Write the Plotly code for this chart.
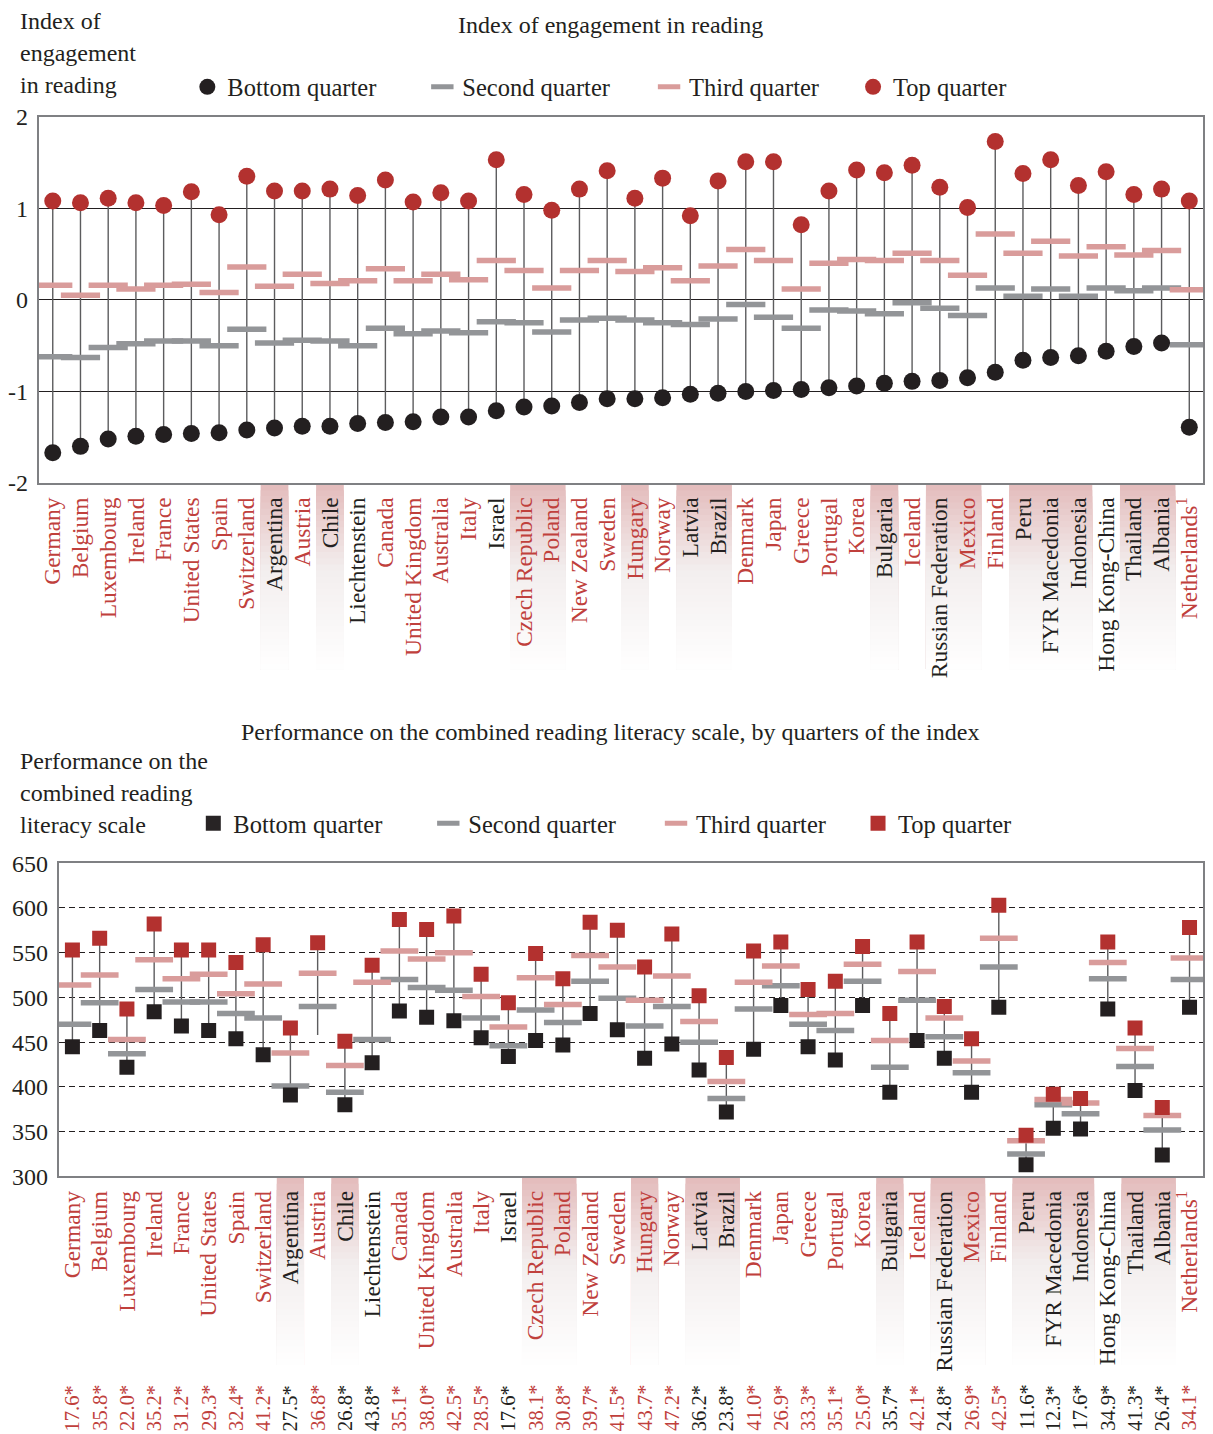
import plotly.graph_objects as go

countries = ["Germany", "Belgium", "Luxembourg", "Ireland", "France", "United States", "Spain",
             "Switzerland", "Argentina", "Austria", "Chile", "Liechtenstein", "Canada",
             "United Kingdom", "Australia", "Italy", "Israel", "Czech Republic", "Poland",
             "New Zealand", "Sweden", "Hungary", "Norway", "Latvia", "Brazil", "Denmark", "Japan",
             "Greece", "Portugal", "Korea", "Bulgaria", "Iceland", "Russian Federation", "Mexico",
             "Finland", "Peru", "FYR Macedonia", "Indonesia", "Hong Kong-China", "Thailand",
             "Albania", "Netherlands<sup>1</sup>"]
oecd = [1, 1, 1, 1, 1, 1, 1, 1, 0, 1, 0, 0, 1, 1, 1, 1, 0, 1, 1, 1, 1, 1, 1, 0, 0, 1, 1, 1, 1, 1,
        0, 1, 0, 1, 1, 0, 0, 0, 0, 0, 0, 1]
shaded = [0, 0, 0, 0, 0, 0, 0, 0, 1, 0, 1, 0, 0, 0, 0, 0, 0, 1, 1, 0, 0, 1, 0, 1, 1, 0, 0, 0, 0, 0,
          1, 0, 1, 1, 0, 1, 1, 1, 0, 1, 1, 0]

eng_bottom = [-1.67, -1.60, -1.52, -1.49, -1.47, -1.46, -1.45, -1.42, -1.40, -1.38, -1.38, -1.35,
              -1.34, -1.33, -1.28, -1.28, -1.21, -1.17, -1.16, -1.12, -1.08, -1.08, -1.07, -1.03,
              -1.02, -1.00, -0.99, -0.98, -0.96, -0.94, -0.91, -0.89, -0.88, -0.85, -0.79, -0.66,
              -0.63, -0.61, -0.56, -0.51, -0.47, -1.39]
eng_second = [-0.62, -0.63, -0.52, -0.48, -0.45, -0.45, -0.50, -0.32, -0.47, -0.44, -0.45, -0.50,
              -0.31, -0.37, -0.34, -0.36, -0.24, -0.25, -0.35, -0.22, -0.20, -0.22, -0.25, -0.27,
              -0.21, -0.05, -0.19, -0.31, -0.11, -0.12, -0.15, -0.03, -0.09, -0.17, 0.13, 0.04,
              0.12, 0.04, 0.13, 0.10, 0.13, -0.49]
eng_third = [0.16, 0.05, 0.16, 0.12, 0.16, 0.17, 0.08, 0.36, 0.15, 0.28, 0.18, 0.21, 0.34, 0.21,
             0.28, 0.22, 0.43, 0.32, 0.13, 0.32, 0.43, 0.31, 0.35, 0.21, 0.37, 0.55, 0.43, 0.12,
             0.40, 0.44, 0.43, 0.51, 0.43, 0.27, 0.72, 0.51, 0.64, 0.48, 0.58, 0.49, 0.54, 0.11]
eng_top = [1.08, 1.06, 1.11, 1.06, 1.03, 1.18, 0.93, 1.35, 1.19, 1.19, 1.21, 1.14, 1.31, 1.07,
           1.17, 1.08, 1.53, 1.15, 0.98, 1.21, 1.41, 1.11, 1.33, 0.92, 1.30, 1.51, 1.51, 0.82,
           1.19, 1.42, 1.39, 1.47, 1.23, 1.01, 1.73, 1.38, 1.53, 1.25, 1.40, 1.15, 1.21, 1.08]

perf_bottom = [445, 463, 422, 484, 468, 463, 454, 436, 391, 458, 380, 427, 485, 478, 474, 455, 434,
               452, 447, 482, 464, 432, 448, 419, 372, 442, 491, 445, 430, 491, 394, 452, 432, 394,
               489, 313, 354, 353, 487, 396, 324, 489]
perf_bottom_shown = [1, 1, 1, 1, 1, 1, 1, 1, 1, 0, 1, 1, 1, 1, 1, 1, 1, 1, 1, 1, 1, 1, 1, 1, 1, 1,
                     1, 1, 1, 1, 1, 1, 1, 1, 1, 1, 1, 1, 1, 1, 1, 1]
perf_second = [470, 494, 437, 509, 495, 495, 482, 477, 401, 490, 394, 453, 520, 511, 508, 477, 446,
               486, 472, 518, 499, 468, 490, 450, 387, 487, 513, 470, 463, 518, 422, 497, 456, 416,
               534, 325, 380, 370, 521, 423, 352, 520]
perf_third = [514, 525, 453, 542, 521, 526, 504, 515, 438, 527, 424, 517, 552, 543, 550, 501, 467,
              522, 492, 547, 534, 497, 524, 473, 406, 517, 535, 481, 482, 537, 452, 529, 477, 429,
              566, 340, 386, 382, 539, 443, 368, 544]
perf_top = [553, 566, 487, 582, 553, 553, 539, 559, 466, 561, 451, 536, 587, 576, 591, 526, 494,
            549, 521, 584, 575, 534, 571, 502, 433, 552, 562, 509, 518, 557, 482, 562, 490, 454,
            603, 346, 392, 387, 562, 466, 377, 578]
pct_explained = ["17.6*", "35.8*", "22.0*", "35.2*", "31.2*", "29.3*", "32.4*", "41.2*", "27.5*",
                 "36.8*", "26.8*", "43.8*", "35.1*", "38.0*", "42.5*", "28.5*", "17.6*", "38.1*",
                 "30.8*", "39.7*", "41.5*", "43.7*", "47.2*", "36.2*", "23.8*", "41.0*", "26.9*",
                 "33.3*", "35.1*", "25.0*", "35.7*", "42.1*", "24.8*", "26.9*", "42.5*", "11.6*",
                 "12.3*", "17.6*", "34.9*", "41.3*", "26.4*", "34.1*"]

FONT = "Liberation Serif"
RED = "#b3312f"
LABEL_RED = "#c0403c"
PINK = "#d99c9b"
GREY = "#939598"
BLACK = "#231f20"
STEM = "#5c5c5e"
TXT = 24

# placement of the figure inside the photographed window (measured)
OX, SX, OY, SY = 13, 0.9957, 19, 0.984
FW, FH = 1197, 1434


def px(x):
    return max(0.0, ((x - OX) / SX) / FW)


def py(y):
    return 1 - ((y - OY) / SY) / FH


idx = list(range(len(countries)))
lab_col = [LABEL_RED if o else BLACK for o in oecd]
ticktext = [f'<span style="color:{c}">{n}</span>' for n, c in zip(countries, lab_col)]

fig = go.Figure()


def stems(xs, lo, hi, xa, ya):
    sx, sy = [], []
    for x, a, b in zip(xs, lo, hi):
        sx += [x, x, None]
        sy += [a, b, None]
    return go.Scatter(x=sx, y=sy, mode="lines", line=dict(color=STEM, width=1.4),
                      xaxis=xa, yaxis=ya, showlegend=False, hoverinfo="skip")


# ---- top panel ----
fig.add_trace(stems(idx, eng_bottom, eng_top, "x", "y"))
fig.add_trace(go.Scatter(x=idx, y=eng_second, mode="markers", name="Second quarter",
                         marker=dict(symbol="line-ew", size=28, line=dict(width=5.5, color=GREY)),
                         legend="legend", legendrank=2))
fig.add_trace(go.Scatter(x=idx, y=eng_third, mode="markers", name="Third quarter",
                         marker=dict(symbol="line-ew", size=28, line=dict(width=5.5, color=PINK)),
                         legend="legend3", legendrank=3))
fig.add_trace(go.Scatter(x=idx, y=eng_bottom, mode="markers", name="Bottom quarter",
                         marker=dict(symbol="circle", size=17, color=BLACK, line=dict(width=0)),
                         legend="legend", legendrank=1))
fig.add_trace(go.Scatter(x=idx, y=eng_top, mode="markers", name="Top quarter",
                         marker=dict(symbol="circle", size=17, color=RED, line=dict(width=0)),
                         legend="legend3", legendrank=4))

# ---- bottom panel ----
fig.add_trace(stems(idx, perf_bottom, perf_top, "x2", "y2"))
fig.add_trace(go.Scatter(x=idx, y=perf_second, mode="markers", name="Second quarter",
                         xaxis="x2", yaxis="y2",
                         marker=dict(symbol="line-ew", size=27, line=dict(width=5.5, color=GREY)),
                         legend="legend2", legendrank=2))
fig.add_trace(go.Scatter(x=idx, y=perf_third, mode="markers", name="Third quarter",
                         xaxis="x2", yaxis="y2",
                         marker=dict(symbol="line-ew", size=27, line=dict(width=5.5, color=PINK)),
                         legend="legend4", legendrank=3))
fig.add_trace(go.Scatter(x=idx, y=perf_bottom, mode="markers", name="Bottom quarter",
                         xaxis="x2", yaxis="y2",
                         marker=dict(symbol="square", size=15, color=BLACK, line=dict(width=0),
                                     opacity=perf_bottom_shown),
                         legend="legend2", legendrank=1))
fig.add_trace(go.Scatter(x=idx, y=perf_top, mode="markers", name="Top quarter",
                         xaxis="x2", yaxis="y2",
                         marker=dict(symbol="square", size=15, color=RED, line=dict(width=0)),
                         legend="legend4", legendrank=4))

# ---- shaded label backgrounds (vertical gradient) ----
runs = []
i = 0
while i < len(shaded):
    if shaded[i]:
        j = i
        while j + 1 < len(shaded) and shaded[j + 1]:
            j += 1
        runs.append((i, j))
        i = j + 1
    else:
        i += 1


def grad(t):
    c0, c1, c2 = (228, 189, 189), (243, 239, 239), (255, 255, 255)
    if t < 0.45:
        u = t / 0.45
        a, b = c0, c1
    else:
        u = (t - 0.45) / 0.55
        a, b = c1, c2
    return "rgb(%d,%d,%d)" % tuple(round(a[k] + (b[k] - a[k]) * u) for k in range(3))


shapes = []
NB = 30
for xref, ytop_px, ybot_px in [("x", 483, 669), ("x2", 1178, 1366)]:
    y_top = py(ytop_px)
    y_bot = py(ybot_px)
    for (a, b) in runs:
        for k in range(NB):
            t = k / NB
            shapes.append(dict(type="rect", xref=xref, yref="paper", x0=a - 0.5, x1=b + 0.5,
                               y0=y_bot, y1=y_top - (y_top - y_bot) * t,
                               fillcolor=grad(t), line=dict(width=0), layer="below"))

annotations = []
annotations.append(dict(text="Index of engagement in reading", xref="paper", yref="paper",
                        x=px(608), y=py(23), showarrow=False, xanchor="center", yanchor="middle",
                        font=dict(family=FONT, size=TXT, color=BLACK)))
for t_, ypx in [("Index of", 19), ("engagement", 51), ("in reading", 83)]:
    annotations.append(dict(text=t_, xref="paper", yref="paper", x=px(10), y=py(ypx),
                            showarrow=False, xanchor="left", yanchor="middle",
                            font=dict(family=FONT, size=TXT, color=BLACK)))
annotations.append(dict(text="Performance on the combined reading literacy scale, by quarters of the index",
                        xref="paper", yref="paper", x=px(608), y=py(732), showarrow=False,
                        xanchor="center", yanchor="middle", font=dict(family=FONT, size=TXT, color=BLACK)))
for t_, ypx in [("Performance on the", 761), ("combined reading", 793), ("literacy scale", 825)]:
    annotations.append(dict(text=t_, xref="paper", yref="paper", x=px(10), y=py(ypx),
                            showarrow=False, xanchor="left", yanchor="middle",
                            font=dict(family=FONT, size=TXT, color=BLACK)))
for k, (p, c) in enumerate(zip(pct_explained, lab_col)):
    annotations.append(dict(text=p, xref="x2", yref="paper", x=k, y=py(1384), showarrow=False,
                            textangle=-90, xanchor="center", yanchor="top",
                            font=dict(family=FONT, size=20.5, color=c)))

axis_common = dict(showline=True, mirror=True, linecolor="#7f8083", linewidth=2, zeroline=False)
xcommon = dict(tickmode="array", tickvals=idx, ticktext=ticktext, tickangle=-90,
               range=[-0.5, len(countries) - 0.5], showgrid=False, ticks="outside", ticklen=3,
               tickcolor="rgba(0,0,0,0)", tickfont=dict(family=FONT, size=23.5, color=BLACK))


def legend_at(text_x, ycen, entry_w):
    # legend text starts about 41 px right of the legend's left edge
    return dict(x=px(text_x) - 41 / FW, y=py(ycen), orientation="h", xanchor="left",
                yanchor="middle", bgcolor="rgba(0,0,0,0)",
                font=dict(family=FONT, size=24.5, color=BLACK),
                itemsizing="trace", entrywidth=entry_w, entrywidthmode="pixels",
                traceorder="normal", itemclick=False, itemdoubleclick=False)


fig.update_layout(
    width=FW, height=FH, margin=dict(l=0, r=0, t=0, b=0),
    paper_bgcolor="white", plot_bgcolor="white",
    font=dict(family=FONT, size=TXT, color=BLACK),
    xaxis=dict(domain=[px(34), px(1204)], anchor="y", **xcommon, **axis_common),
    yaxis=dict(domain=[py(482), py(115)], anchor="x", range=[-2, 2],
               tickmode="array", tickvals=[-2, -1, 0, 1, 2], ticktext=["-2", "-1", "0", "1", "2"],
               showgrid=True, gridcolor=BLACK, gridwidth=1.2, ticks="outside", ticklen=4,
               tickcolor="rgba(0,0,0,0)", tickfont=dict(family=FONT, size=TXT, color=BLACK),
               **axis_common),
    xaxis2=dict(domain=[px(54), px(1204)], anchor="y2", **xcommon, **axis_common),
    yaxis2=dict(domain=[py(1177), py(863)], anchor="x2", range=[300, 650],
                tickmode="linear", tick0=300, dtick=50, showgrid=True, gridcolor=BLACK,
                gridwidth=1, griddash="6px,4px", ticks="outside", ticklen=4,
                tickcolor="rgba(0,0,0,0)", tickfont=dict(family=FONT, size=TXT, color=BLACK),
                **axis_common),
    legend=legend_at(224, 85, 190),
    legend3=legend_at(688, 85, 159),
    legend2=legend_at(230, 823, 190),
    legend4=legend_at(695, 823, 157),
    shapes=shapes,
    annotations=annotations,
    showlegend=True,
)

fig.write_html("out.html")
